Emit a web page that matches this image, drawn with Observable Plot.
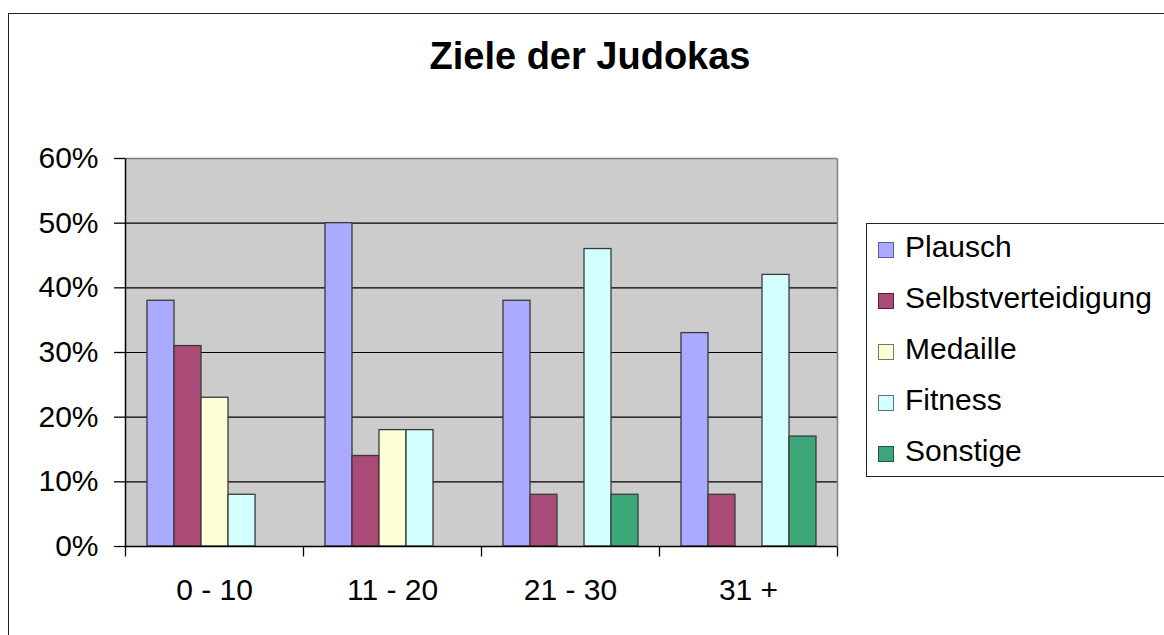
<!DOCTYPE html>
<html>
<head>
<meta charset="utf-8">
<script src="https://cdn.jsdelivr.net/npm/d3@7"></script>
<script src="https://cdn.jsdelivr.net/npm/@observablehq/plot@0.6"></script>
<style>
  html, body { margin: 0; padding: 0; width: 1164px; height: 635px; overflow: hidden; background: #fff; }
  body { position: relative; font-family: "Liberation Sans", Arial, sans-serif; color: #000; }
  #border { position: absolute; left: 8px; top: 13px; width: 1200px; height: 700px; border: 1.5px solid #222; box-sizing: border-box; }
  #title { position: absolute; left: 0; top: 37px; width: 1180px; text-align: center; font-size: 38px; line-height: 38px; font-weight: bold; }
  #chart { position: absolute; left: 0; top: 0; }
  #legend { position: absolute; left: 866px; top: 223px; width: 340px; height: 254px; border: 1.5px solid #222; box-sizing: border-box; background: #fff; }
  .item { position: relative; top: -3px; height: 51.2px; display: flex; align-items: center; font-size: 30px; }
  .sw { width: 14px; height: 14px; margin-left: 11px; margin-right: 11px; border: 1.5px solid #333; margin-top: 6px; }
</style>
</head>
<body>
<div id="border"></div>
<div id="title">Ziele der Judokas</div>
<div id="chart"></div>
<div id="legend"></div>
<script>
const groups = ["0 - 10", "11 - 20", "21 - 30", "31 +"];
const series = ["Plausch", "Selbstverteidigung", "Medaille", "Fitness", "Sonstige"];
const plausch = [0.38, 0.50, 0.38, 0.33];
const selbstverteidigung = [0.31, 0.14, 0.08, 0.08];
const medaille = [0.23, 0.18, 0, 0];
const fitness = [0.08, 0.18, 0.46, 0.42];
const sonstige = [0, 0, 0.08, 0.17];
const colors = ["#aaaaff", "#aa4a77", "#ffffd6", "#d4ffff", "#3ca87a"];
const swatchStrokes = ["#5a5aaa", "#5a1a3a", "#77775a", "#557777", "#1a5a3a"];
const yTicks = [0, 0.1, 0.2, 0.3, 0.4, 0.5, 0.6];

const valuesBySeries = [plausch, selbstverteidigung, medaille, fitness, sonstige];
const data = [];
groups.forEach((g, gi) => series.forEach((s, si) => {
  const v = valuesBySeries[si][gi];
  if (v > 0) data.push({group: g, series: s, value: v});
}));

const vline = (len) => ({draw(ctx) { ctx.moveTo(0, 0); ctx.lineTo(0, len); }});
const plotH = 388;

const chart = Plot.plot({
  width: 850,
  height: 635,
  marginLeft: 124,
  marginRight: 12,
  marginTop: 158,
  marginBottom: 89,
  style: {fontFamily: "'Liberation Sans', Arial, sans-serif", fontSize: "30px", color: "#000", background: "transparent", overflow: "visible"},
  fx: {domain: groups, padding: 0, label: null, axis: null},
  x: {domain: series, paddingInner: 0, paddingOuter: 0.745, axis: null},
  y: {domain: [0, 0.6], axis: null},
  color: {domain: series, range: colors},
  marks: [
    Plot.frame({fill: "#cccccc", stroke: "none", insetRight: -0.6}),
    Plot.gridY(yTicks.slice(1, -1), {stroke: "#000", strokeOpacity: 1, strokeWidth: 1.2}),
    Plot.ruleY([0.6], {stroke: "#808080", strokeWidth: 1.5}),
    Plot.barY(data, {fx: "group", x: "series", y: "value", fill: "series", stroke: "#3a3a3a", strokeWidth: 1.3}),
    Plot.ruleY([0], {stroke: "#000", strokeWidth: 1.5}),
    Plot.dot([groups[0]], {fx: d => d, frameAnchor: "bottom-left", symbol: vline(-plotH), fill: "none", stroke: "#000", strokeWidth: 1.5}),
    Plot.dot([groups[groups.length - 1]], {fx: d => d, frameAnchor: "bottom-right", symbol: vline(-plotH), fill: "none", stroke: "#808080", strokeWidth: 1.5}),
    Plot.dot(groups, {fx: d => d, frameAnchor: "bottom-left", symbol: vline(10), fill: "none", stroke: "#000", strokeWidth: 1.3}),
    Plot.dot([groups[groups.length - 1]], {fx: d => d, frameAnchor: "bottom-right", symbol: vline(10), fill: "none", stroke: "#000", strokeWidth: 1.3}),
    Plot.axisY(yTicks, {tickFormat: d3.format(".0%"), tickSize: 11, tickPadding: 16, fontSize: 30, label: null, stroke: "#000", strokeWidth: 1.3}),
    Plot.axisFx({tickSize: 0, tickPadding: 32, fontSize: 30, label: null, anchor: "bottom"})
  ]
});
document.getElementById("chart").appendChild(chart);

const legend = document.getElementById("legend");
series.forEach((s, i) => {
  const row = document.createElement("div");
  row.className = "item";
  const sw = document.createElement("div");
  sw.className = "sw";
  sw.style.background = colors[i];
  sw.style.borderColor = swatchStrokes[i];
  const label = document.createElement("span");
  label.textContent = s;
  row.appendChild(sw);
  row.appendChild(label);
  legend.appendChild(row);
});
</script>
</body>
</html>
